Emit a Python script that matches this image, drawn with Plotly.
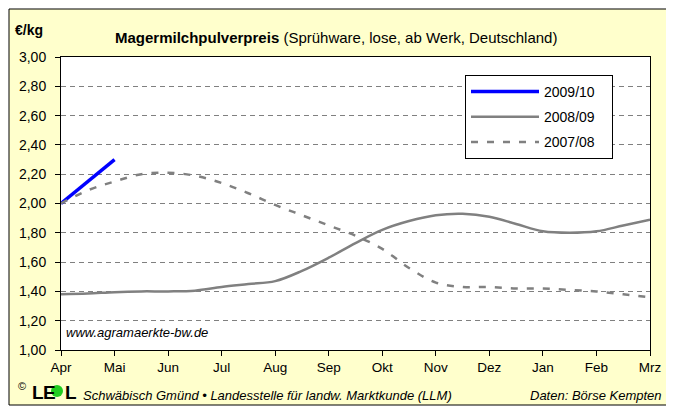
import plotly.graph_objects as go

months = ["Apr", "Mai", "Jun", "Jul", "Aug", "Sep", "Okt", "Nov", "Dez", "Jan", "Feb", "Mrz"]

# positions in months after April (semi-monthly readings)
x_0910 = [0, 0.25, 0.5, 0.75, 1.0]
y_0910 = [2.00, 2.075, 2.15, 2.225, 2.30]

x_half = [i * 0.5 for i in range(23)]
y_0809 = [1.38, 1.385, 1.395, 1.40, 1.40, 1.405, 1.43, 1.45, 1.47, 1.54, 1.63, 1.73,
          1.82, 1.88, 1.92, 1.93, 1.91, 1.86, 1.81, 1.80, 1.81, 1.85, 1.89]
y_0708 = [2.00, 2.09, 2.15, 2.20, 2.21, 2.19, 2.14, 2.07, 1.99, 1.92, 1.85, 1.78,
          1.69, 1.56, 1.46, 1.43, 1.43, 1.42, 1.42, 1.41, 1.40, 1.38, 1.36]

FONT = "Liberation Sans, Arial, sans-serif"
NB = "\u00a0"

fig = go.Figure()
fig.add_trace(go.Scatter(x=x_0910, y=y_0910, mode="lines", name="2009/10" + NB * 3,
                         legendgroup="a", line=dict(color="#0000FF", width=3.5)))
fig.add_trace(go.Scatter(x=x_half, y=y_0809, mode="lines", name="2008/09" + NB * 3,
                         legendgroup="b", line=dict(color="#808080", width=2.5, shape="spline")))
fig.add_trace(go.Scatter(x=x_half, y=y_0708, mode="lines", name="2007/08" + NB * 3,
                         legendgroup="c", line=dict(color="#808080", width=2.5, shape="spline",
                                                    dash="7px,9px")))

# page body has an 8px margin: figure is drawn at screen offset (8, 8)
OFF = 8
SW, SH = 674, 412
W, H = SW - OFF, SH - OFF
L, R, T, B = 61, 650, 57, 350  # plot area in screen pixels
pw, ph = R - L, B - T


def px(x):
    return (x - L) / pw


def py(y):
    return (B - y) / ph


shapes = [
    dict(type="rect", xref="paper", yref="paper", x0=px(9), x1=px(671), y0=py(405), y1=py(9),
         fillcolor="#FFFFCC", line=dict(color="black", width=1), layer="below"),
    dict(type="rect", xref="paper", yref="paper", x0=0, x1=1, y0=0, y1=1,
         fillcolor="white", line=dict(width=0), layer="below"),
    dict(type="circle", xref="paper", yref="paper", x0=px(51), x1=px(63), y0=py(397), y1=py(385),
         fillcolor="#22CC22", line=dict(width=0), layer="above"),
]


def ann(text, x, y, size, xanchor="left", color="black", family=FONT):
    return dict(text=text, x=px(x), y=py(y), xref="paper", yref="paper", showarrow=False,
                xanchor=xanchor, yanchor="middle",
                font=dict(family=family, size=size, color=color))


annotations = [
    ann("<b>Magermilchpulverpreis</b> (Sprühware, lose, ab Werk, Deutschland)", 336, 38, 15,
        xanchor="center"),
    ann("<b>€/kg</b>", 13, 30, 14),
    ann("<i>www.agramaerkte-bw.de</i>", 64, 332, 13),
    ann("©", 16, 386, 11),
    ann("<b>L</b>", 30, 392, 19),
    ann("<b>E</b>", 41, 392, 19),
    ann("<b>L</b>", 63, 392, 19),
    ann("<i>Schwäbisch Gmünd • Landesstelle für landw. Marktkunde (LLM)</i>", 81, 395, 13),
    ann("<i>Daten: Börse Kempten</i>", 664, 395, 13, xanchor="right"),
]

fig.update_layout(
    width=W, height=H,
    margin=dict(l=L - OFF, r=W - (R - OFF), t=T - OFF, b=H - (B - OFF), pad=0),
    paper_bgcolor="white", plot_bgcolor="rgba(0,0,0,0)",
    separators=",.",
    font=dict(family=FONT, size=12, color="black"),
    shapes=shapes, annotations=annotations,
    showlegend=True,
    legend=dict(x=px(465), y=py(75), xanchor="left", yanchor="top",
                bgcolor="white", bordercolor="black", borderwidth=1,
                font=dict(family=FONT, size=14, color="black"),
                tracegroupgap=4, itemwidth=68),
    xaxis=dict(range=[0, 11], tickvals=list(range(12)), ticktext=months,
               showgrid=False, zeroline=False, showline=True, linecolor="black", linewidth=1,
               mirror=True, ticks="outside", ticklen=5, tickcolor="black",
               tickfont=dict(family=FONT, size=13.5, color="black")),
    yaxis=dict(range=[1, 3], dtick=0.2, tick0=1, tickformat=".2f",
               showgrid=True, gridcolor="#808080", gridwidth=1, griddash="5px,4px",
               zeroline=False, showline=True, linecolor="black", linewidth=1, mirror=True,
               ticks="outside", ticklen=5, tickcolor="black", ticklabelstandoff=6,
               tickfont=dict(family=FONT, size=14, color="black")),
)

fig.write_html("out.html")
